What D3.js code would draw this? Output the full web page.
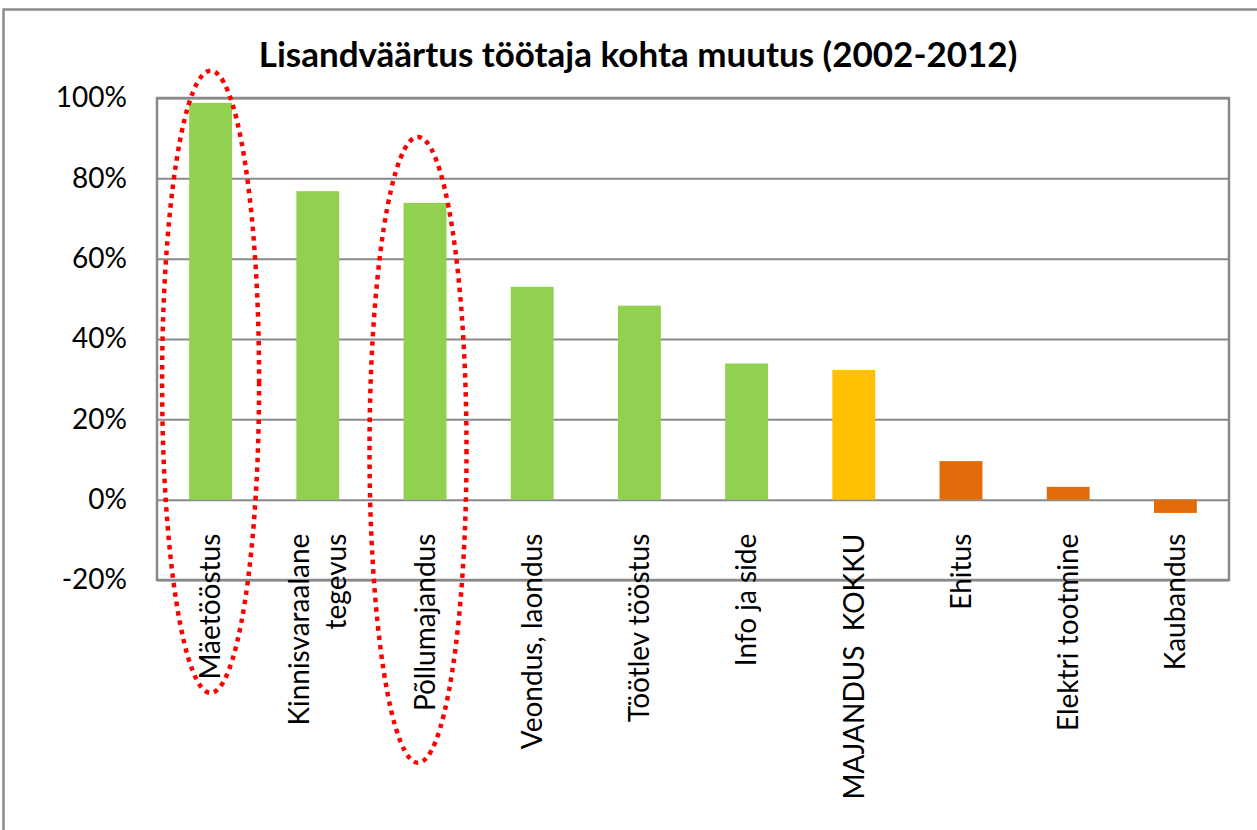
<!DOCTYPE html>
<html>
<head>
<meta charset="utf-8">
<script src="https://cdn.jsdelivr.net/npm/d3@7"></script>
<style>
  body { margin: 0; background: #fff; }
  svg { display: block; }
</style>
</head>
<body>
<script>
// Chart data
var categories = ["Mäetööstus", "Kinnisvaraalane\ntegevus", "Põllumajandus", "Veondus, laondus",
  "Töötlev tööstus", "Info ja side", "MAJANDUS  KOKKU", "Ehitus", "Elektri tootmine", "Kaubandus"];
var values = [0.988, 0.768, 0.739, 0.530, 0.483, 0.339, 0.323, 0.096, 0.032, -0.033];
var groups = ["up", "up", "up", "up", "up", "up", "total", "down", "down", "down"];
var yTicks = [-0.2, 0, 0.2, 0.4, 0.6, 0.8, 1.0];
var title = "Lisandväärtus töötaja kohta muutus (2002-2012)";

// highlighted categories (red dotted ellipses): top and bottom reach in axis units
var highlights = ["Mäetööstus", "Põllumajandus"];
var highlightTop = [1.068, 0.903];
var highlightBottom = [-0.481, -0.655];

var colors = { up: "#92d050", total: "#ffc000", down: "#e36c0a" };

var svgWidth = 1257;
var svgHeight = 830;
var margin = { top: 98, right: 28, bottom: 250, left: 157 };
var width = svgWidth - margin.left - margin.right;
var height = 580 - margin.top;

var svg = d3.select("body").append("svg")
  .attr("width", svgWidth)
  .attr("height", svgHeight);

// outer chart border
svg.append("rect")
  .attr("x", 3.5).attr("y", 9.5)
  .attr("width", 1300).attr("height", 900)
  .attr("fill", "none")
  .attr("stroke", "#8c8c8c")
  .attr("stroke-width", 2.5);

// title
svg.append("text")
  .attr("x", 638)
  .attr("y", 67)
  .attr("text-anchor", "middle")
  .style("font-family", "Lato, sans-serif")
  .style("font-weight", "bold")
  .style("font-size", "35px")
  .text(title);

var chartGroup = svg.append("g")
  .attr("transform", `translate(${margin.left}, ${margin.top})`);

var xScale = d3.scaleBand()
  .domain(categories)
  .range([0, width])
  .paddingInner(0.6)
  .paddingOuter(0.3);

var yScale = d3.scaleLinear()
  .domain([-0.2, 1.0])
  .range([height, 0]);

// gridlines + y labels
var leftAxis = d3.axisLeft(yScale)
  .tickValues(yTicks)
  .tickSize(-width)
  .tickPadding(30)
  .tickFormat(d => d3.format(".0%")(d).replace("−", "-"));

var yAxis = chartGroup.append("g").call(leftAxis);
yAxis.select(".domain").remove();
yAxis.selectAll("line")
  .attr("stroke", "#898989")
  .attr("stroke-width", 2);
yAxis.selectAll("text")
  .style("font-family", "Lato, sans-serif")
  .style("font-size", "28px")
  .attr("fill", "#000");

// plot area border
chartGroup.append("rect")
  .attr("width", width)
  .attr("height", height)
  .attr("fill", "none")
  .attr("stroke", "#898989")
  .attr("stroke-width", 2.5);

// bars
chartGroup.selectAll(".bar")
  .data(values)
  .enter()
  .append("rect")
  .attr("class", "bar")
  .attr("x", (d, i) => xScale(categories[i]))
  .attr("y", d => yScale(Math.max(0, d)))
  .attr("width", xScale.bandwidth())
  .attr("height", d => Math.abs(yScale(d) - yScale(0)))
  .attr("fill", (d, i) => colors[groups[i]]);

// category labels, rotated, hanging below the zero line
var bottomAxis = d3.axisBottom(xScale).tickSize(0).tickFormat("");
var xAxis = chartGroup.append("g")
  .attr("transform", `translate(0, ${yScale(0)})`)
  .call(bottomAxis);
xAxis.select(".domain").remove();

var lineH = 37;
xAxis.selectAll(".tick").each(function(d) {
  var lines = d.split("\n");
  var t = d3.select(this).append("text")
    .attr("transform", "rotate(-90)")
    .attr("text-anchor", "end")
    .attr("fill", "#000")
    .style("font-family", "Lato, sans-serif")
    .style("font-size", "28px")
    .style("white-space", "pre");
  lines.forEach(function(line, j) {
    t.append("tspan")
      .attr("x", -34)
      .attr("y", (j - (lines.length - 1) / 2) * lineH)
      .attr("dy", "0.35em")
      .text(line);
  });
});

// red dotted ellipses
chartGroup.selectAll(".hl")
  .data(highlights)
  .enter()
  .append("ellipse")
  .attr("class", "hl")
  .attr("cx", (d, i) => xScale(d) + xScale.bandwidth() / 2 - (i ? 7 : 0))
  .attr("cy", (d, i) => (yScale(highlightTop[i]) + yScale(highlightBottom[i])) / 2)
  .attr("rx", 48.5)
  .attr("ry", (d, i) => (yScale(highlightBottom[i]) - yScale(highlightTop[i])) / 2)
  .attr("fill", "none")
  .attr("stroke", "#ff0000")
  .attr("stroke-width", 4.5)
  .attr("stroke-dasharray", "4.5 5");
</script>
</body>
</html>
